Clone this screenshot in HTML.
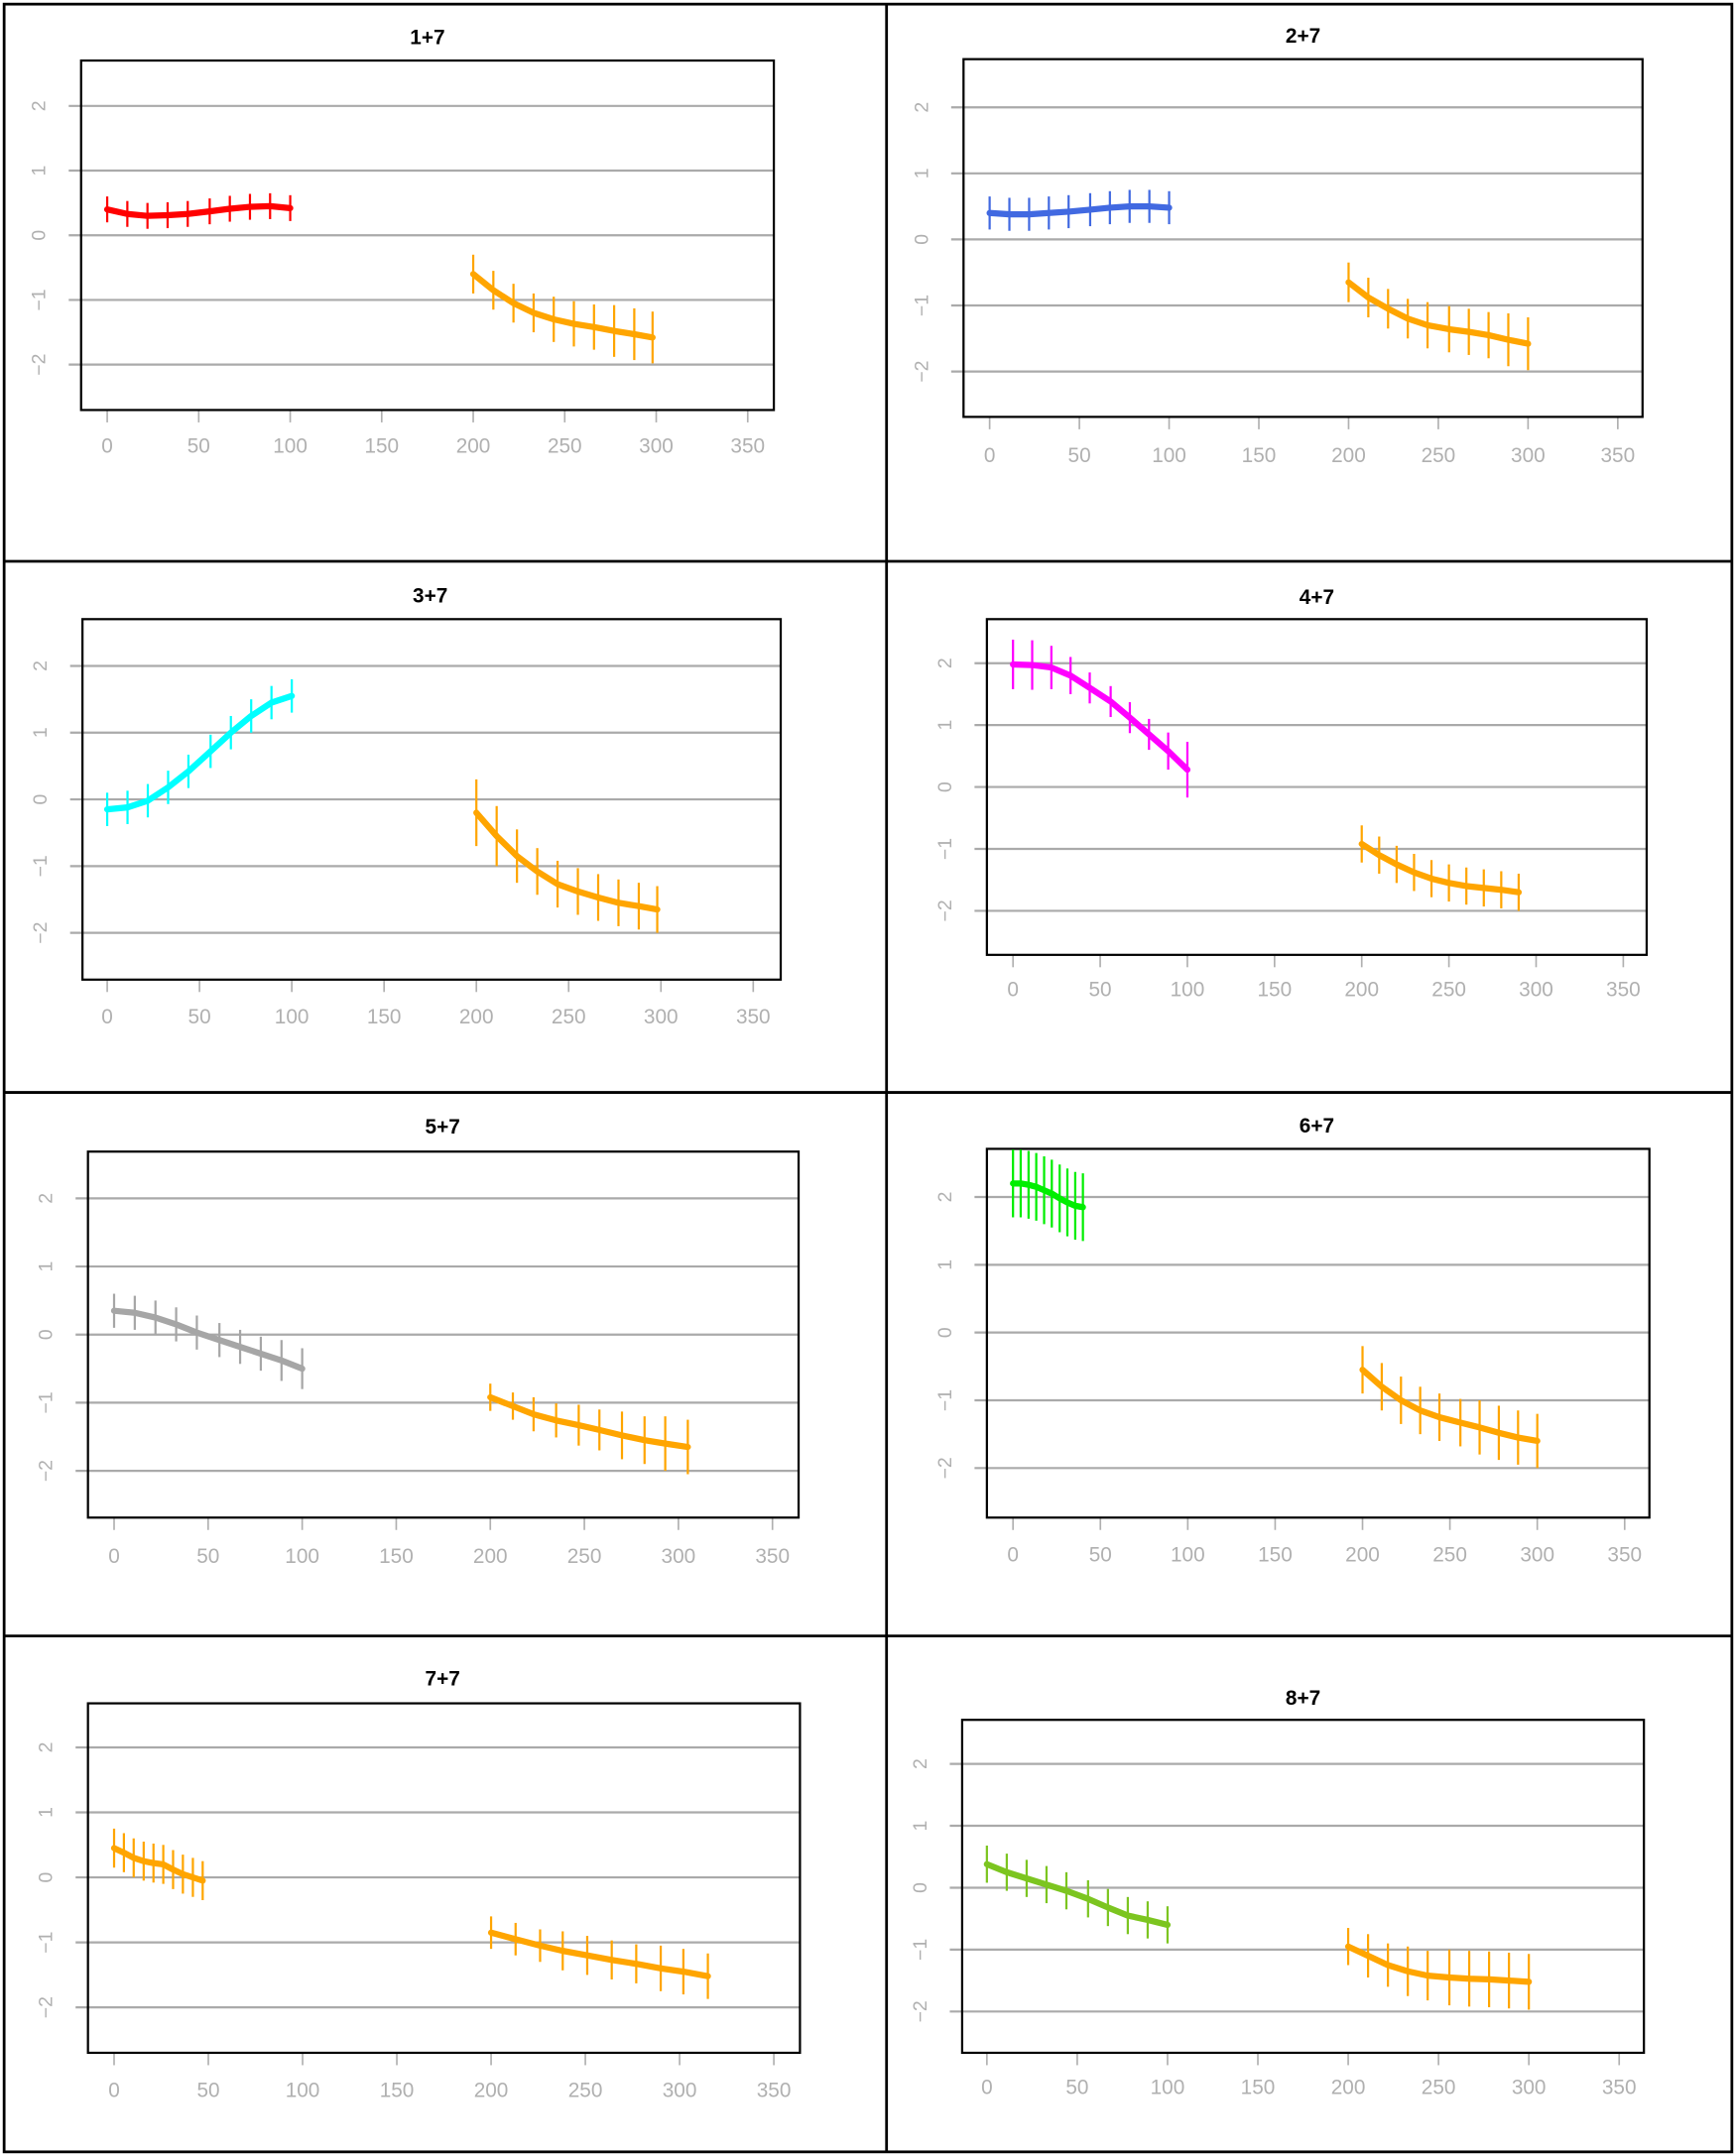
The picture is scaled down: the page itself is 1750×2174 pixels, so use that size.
<!DOCTYPE html>
<html><head><meta charset="utf-8">
<style>
html,body{margin:0;padding:0;background:#fff;}
svg{display:block;}
text{font-family:"Liberation Sans",sans-serif;}
</style></head>
<body>
<svg id="fig" width="1750" height="2174" viewBox="0 0 1263 1567" preserveAspectRatio="none" xmlns="http://www.w3.org/2000/svg">
<rect x="0" y="0" width="1263" height="1567" fill="#fff"/>
<g id="frame" stroke="#000" stroke-width="2" fill="none">
<rect x="3" y="3" width="1257" height="1561"/>
<line x1="645" y1="3" x2="645" y2="1564"/>
<line x1="3" y1="408" x2="1260" y2="408"/>
<line x1="3" y1="794" x2="1260" y2="794"/>
<line x1="3" y1="1189" x2="1260" y2="1189"/>
</g>
<g id="panels"></g>
</svg>
<script>
// ---- data ----
const panelTitles = ["1+7","2+7","3+7","4+7","5+7","6+7","7+7","8+7"];
const firstColors = ["#ff0000","#4169e1","#00ffff","#ff00ff","#a6a6a6","#00ee00","#ffa500","#7cc520"];
const xTickLabels = [0,50,100,150,200,250,300,350];
const yTickLabels = [2,1,0,-1,-2];

const s1x = [
 [0,11,22,33,44,56,67,78,89,100],
 [0,11,22,33,44,56,67,78,89,100],
 [0,11,22,33,44,56,67,78,89,100],
 [0,11,22,33,44,56,67,78,89,100],
 [0,11,22,33,44,56,67,78,89,100],
 [0,4.4,8.9,13.3,17.8,22.2,26.7,31.1,35.6,40],
 [0,5.2,10.4,15.7,20.9,26.1,31.3,36.5,41.8,47],
 [0,11,22,33,44,56,67,78,89,100]
];
const s1y = [
 [0.4,0.33,0.3,0.31,0.33,0.37,0.41,0.44,0.45,0.42],
 [0.4,0.38,0.38,0.4,0.42,0.45,0.48,0.5,0.5,0.48],
 [-0.15,-0.12,-0.02,0.18,0.42,0.72,1.0,1.25,1.45,1.55],
 [1.98,1.97,1.93,1.8,1.6,1.38,1.12,0.85,0.58,0.28],
 [0.35,0.32,0.25,0.15,0.03,-0.08,-0.18,-0.28,-0.38,-0.5],
 [2.2,2.2,2.18,2.15,2.1,2.05,1.98,1.92,1.87,1.85],
 [0.45,0.38,0.3,0.25,0.22,0.2,0.12,0.05,0.0,-0.05],
 [0.38,0.25,0.15,0.05,-0.05,-0.18,-0.32,-0.45,-0.52,-0.6]
];
const s1err = [
 [0.2,0.2,0.2,0.2,0.2,0.2,0.2,0.2,0.2,0.2],
 [0.25,0.25,0.25,0.25,0.25,0.25,0.25,0.25,0.25,0.25],
 [0.25,0.25,0.25,0.25,0.25,0.25,0.25,0.25,0.25,0.25],
 [0.4,0.4,0.35,0.3,0.25,0.25,0.25,0.25,0.3,0.45],
 [0.25,0.25,0.25,0.25,0.25,0.25,0.25,0.25,0.3,0.3],
 [0.5,0.5,0.5,0.5,0.5,0.5,0.5,0.5,0.5,0.5],
 [0.3,0.3,0.3,0.3,0.3,0.3,0.3,0.3,0.3,0.3],
 [0.3,0.3,0.3,0.3,0.3,0.3,0.3,0.3,0.3,0.3]
];
const s2x = [
 [200,211,222,233,244,255,266,277,288,298],
 [200,211,222,233,244,256,267,278,289,300],
 [200,211,222,233,244,255,266,277,288,298],
 [200,210,220,230,240,250,260,270,280,290],
 [200,212,223,235,247,258,270,282,293,305],
 [200,211,222,233,244,256,267,278,289,300],
 [200,213,226,238,251,264,277,290,302,315],
 [200,211,222,233,244,256,267,278,289,300]
];
const s2y = [
 [-0.6,-0.85,-1.05,-1.2,-1.3,-1.37,-1.42,-1.48,-1.53,-1.58],
 [-0.65,-0.88,-1.05,-1.2,-1.3,-1.36,-1.4,-1.45,-1.52,-1.58],
 [-0.2,-0.55,-0.85,-1.08,-1.27,-1.38,-1.47,-1.55,-1.6,-1.65],
 [-0.92,-1.1,-1.25,-1.38,-1.48,-1.55,-1.6,-1.63,-1.66,-1.7],
 [-0.92,-1.05,-1.17,-1.26,-1.33,-1.4,-1.48,-1.55,-1.6,-1.65],
 [-0.55,-0.8,-1.0,-1.15,-1.25,-1.33,-1.4,-1.48,-1.55,-1.6],
 [-0.85,-0.95,-1.05,-1.13,-1.2,-1.27,-1.33,-1.4,-1.45,-1.52],
 [-0.95,-1.1,-1.25,-1.35,-1.42,-1.45,-1.47,-1.48,-1.5,-1.52]
];
const s2err = [
 [0.3,0.3,0.3,0.3,0.35,0.35,0.35,0.4,0.4,0.4],
 [0.3,0.3,0.3,0.3,0.35,0.35,0.35,0.35,0.4,0.4],
 [0.5,0.45,0.4,0.35,0.35,0.35,0.35,0.35,0.35,0.35],
 [0.3,0.3,0.3,0.3,0.3,0.3,0.3,0.3,0.3,0.3],
 [0.2,0.2,0.25,0.25,0.3,0.3,0.35,0.35,0.4,0.4],
 [0.35,0.35,0.35,0.35,0.35,0.35,0.4,0.4,0.4,0.4],
 [0.25,0.25,0.25,0.3,0.3,0.3,0.3,0.35,0.35,0.35],
 [0.3,0.35,0.35,0.4,0.4,0.45,0.45,0.45,0.45,0.45]
];

// ---- layout (display-space geometry of each panel) ----
const layout = [
 {tx:311,ty:32,bx0:59,bx1:563,by0:44,by1:298,x0:78,x350:544,y2:77,ym2:265,lab:329,ylx:33},
 {tx:948,ty:31,bx0:701,bx1:1195,by0:43,by1:303,x0:720,x350:1177,y2:78,ym2:270,lab:336,ylx:675},
 {tx:313,ty:438,bx0:60,bx1:568,by0:450,by1:712,x0:78,x350:548,y2:484,ym2:678,lab:744,ylx:34},
 {tx:958,ty:439,bx0:718,bx1:1198,by0:450,by1:694,x0:737,x350:1181,y2:482,ym2:662,lab:724,ylx:692},
 {tx:322,ty:824,bx0:64,bx1:581,by0:837,by1:1103,x0:83,x350:562,y2:871,ym2:1069,lab:1136,ylx:38},
 {tx:958,ty:823,bx0:718,bx1:1200,by0:835,by1:1103,x0:737,x350:1182,y2:870,ym2:1067,lab:1135,ylx:692},
 {tx:322,ty:1225,bx0:64,bx1:582,by0:1238,by1:1492,x0:83,x350:563,y2:1270,ym2:1459,lab:1524,ylx:38},
 {tx:948,ty:1239,bx0:700,bx1:1196,by0:1250,by1:1492,x0:718,x350:1178,y2:1282,ym2:1462,lab:1522,ylx:674}
];

const NS = "http://www.w3.org/2000/svg";
const root = document.getElementById('panels');
function mk(tag, attrs, parent){
  const e = document.createElementNS(NS, tag);
  for (const k in attrs) e.setAttribute(k, attrs[k]);
  parent.appendChild(e);
  return e;
}

function drawSeries(g, xs, ys, es, sx, sy, color, name){
  const sg = mk('g', {}, g);
  
  
  for (let i = 0; i < xs.length; i++){
    const eb = mk('line', {x1:sx(xs[i]), x2:sx(xs[i]), y1:sy(ys[i]+es[i]), y2:sy(ys[i]-es[i]), stroke:color, 'stroke-width':1.6}, sg);
    
    
  }
  const pts = xs.map((x,i)=>sx(x).toFixed(2)+','+sy(ys[i]).toFixed(2)).join(' ');
  const pl = mk('polyline', {points:pts, fill:'none', stroke:color, 'stroke-width':4.5, 'stroke-linejoin':'round', 'stroke-linecap':'round'}, sg);
  
  
}

layout.forEach((L, p) => {
  const g = mk('g', {}, root);
  
  
  const sx = v => L.x0 + (L.x350 - L.x0) * v / 350;
  const sy = v => L.y2 + (L.ym2 - L.y2) * (2 - v) / 4;

  const t = mk('text', {x:L.tx, y:L.ty, 'text-anchor':'middle', 'font-size':15, 'font-weight':'bold', fill:'#000'}, g);
  t.textContent = panelTitles[p];
  
  

  yTickLabels.forEach(v => {
    const gl = mk('line', {x1:L.bx0-9, x2:L.bx1, y1:sy(v), y2:sy(v), stroke:'#aaaaaa', 'stroke-width':1.6}, g);
    
    
    const yl = mk('text', {x:L.ylx, y:sy(v), 'text-anchor':'middle', 'font-size':14, fill:'#b0b0b0', transform:'rotate(-90 '+L.ylx+' '+sy(v)+')'}, g);
    yl.textContent = v < 0 ? '\u2212' + Math.abs(v) : String(v);
    
    
  });

  xTickLabels.forEach(v => {
    const tk = mk('line', {x1:sx(v), x2:sx(v), y1:L.by1, y2:L.by1+9, stroke:'#b0b0b0', 'stroke-width':1.2}, g);
    
    
    const xl = mk('text', {x:sx(v), y:L.lab, 'text-anchor':'middle', 'font-size':15, fill:'#b0b0b0'}, g);
    xl.textContent = String(v);
    
    
  });

  const box = mk('rect', {x:L.bx0, y:L.by0, width:L.bx1-L.bx0, height:L.by1-L.by0, fill:'none', stroke:'#000', 'stroke-width':1.6}, g);
  
  

  drawSeries(g, s1x[p], s1y[p], s1err[p], sx, sy, firstColors[p], 'series-first');
  drawSeries(g, s2x[p], s2y[p], s2err[p], sx, sy, '#ffa500', 'series-seven');
});
</script>
</body></html>
